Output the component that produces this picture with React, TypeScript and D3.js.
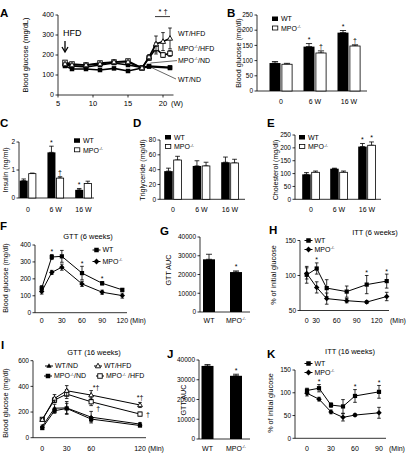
import React from "react";
import * as d3 from "d3";

const FONT = "'Liberation Sans', Arial, Helvetica, sans-serif";
const TICK_FS = 6.5;
const LAB_FS = 7.2;
const LEG_FS = 7;
const TITLE_FS = 7.5;

// ---------- Panel A ----------
const aWeeks = [6, 7, 9, 11, 13, 15, 17, 18, 19, 20, 21];
const aWtHfd = [155, 150, 150, 155, 165, 165, 135, 190, 255, 267, 283];
const aWtHfdErr = [6, 6, 6, 6, 6, 6, 6, 12, 40, 45, 52];
const aMpoHfd = [163, 155, 150, 160, 165, 170, 135, 185, 233, 200, 208];
const aMpoHfdErr = [6, 6, 6, 6, 6, 6, 6, 12, 28, 12, 15];
const aNdWeeks = [6, 7, 9, 11, 13, 15, 17, 18, 21];
const aWtNd = [145, 130, 130, 125, 133, 120, 135, 142, 135];
const aWtNdErr = [5, 5, 5, 5, 5, 5, 5, 5, 5];
const aMpoNd = [150, 145, 140, 150, 160, 150, 138, 145, 138];
const aMpoNdErr = [5, 5, 5, 5, 5, 5, 5, 5, 5];
const aXTicks = [5, 10, 15, 20];
const aYTicks = [0, 100, 200, 300, 400];

// ---------- Bar panels B-E ----------
const barGroups = ["0", "6 W", "16 W"];
const bWt = [92, 146, 192];
const bWtErr = [5, 10, 7];
const bMpo = [88, 125, 148];
const bMpoErr = [3, 7, 4];
const bStarsWt = ["", "*", "*"];
const bStarsMpo = ["", "†", "†"];
const bYTicks = [0, 50, 100, 150, 200, 250];

const cWt = [0.62, 1.63, 0.29];
const cWtErr = [0.06, 0.22, 0.05];
const cMpo = [0.87, 0.71, 0.52];
const cMpoErr = [0.02, 0.05, 0.08];
const cStarsWt = ["", "*", "*"];
const cStarsMpo = ["", "†", ""];
const cYTicks = [0, 1, 2];

const dWt = [38, 45, 50];
const dWtErr = [4, 7, 7];
const dMpo = [53, 45, 49];
const dMpoErr = [5, 5, 5];
const dYTicks = [0, 20, 40, 60, 80];

const eWt = [97, 119, 205];
const eWtErr = [7, 2, 12];
const eMpo = [105, 105, 210];
const eMpoErr = [5, 5, 13];
const eStarsWt = ["", "", "*"];
const eStarsMpo = ["", "", "*"];
const eYTicks = [0, 50, 100, 150, 200, 250];

// ---------- AUC panels G, J ----------
const aucGroups = ["WT", "MPO"];
const gAuc = [28100, 21300];
const gErr = [2700, 600];
const jAuc = [37000, 32000];
const jErr = [700, 800];
const aucStars = ["", "*"];
const aucYTicks = [0, 10000, 20000, 30000, 40000];

// ---------- F: GTT 6 weeks ----------
const fTime = [0, 15, 30, 60, 90, 120];
const fWt = [145, 329, 333, 234, 174, 135];
const fWtErr = [15, 15, 35, 40, 10, 8];
const fMpo = [125, 238, 269, 170, 121, 101];
const fMpoErr = [15, 12, 18, 15, 12, 15];
const fStarTimes = [15, 60, 90];
const fXTicks = [0, 30, 60, 90, 120];
const fYTicks = [0, 100, 200, 300, 400];

// ---------- H: ITT 6 weeks ----------
const hTime = [0, 15, 30, 60, 90, 120];
const hWt = [101, 110, 82, 77, 87, 92];
const hWtErr = [12, 8, 12, 8, 13, 10];
const hMpo = [103, 83, 67, 64, 62, 70];
const hMpoErr = [8, 8, 8, 3, 2, 6];
const hStarTimes = [15, 90, 120];
const hTickPos = [0, 14, 45, 75, 105];
const hTickLab = ["0", "30", "60", "90", "120"];
const hYTicks = [50, 100, 150];

// ---------- I: GTT 16 weeks ----------
const iTime = [0, 15, 30, 60, 120];
const iWtNd = [88, 230, 232, 160, 106];
const iWtNdErr = [10, 30, 50, 45, 12];
const iMpoNd = [75, 210, 228, 145, 95];
const iMpoNdErr = [10, 20, 40, 20, 10];
const iWtHfd = [140, 306, 366, 332, 255];
const iWtHfdErr = [10, 30, 40, 35, 20];
const iMpoHfd = [143, 293, 340, 280, 184];
const iMpoHfdErr = [10, 20, 35, 30, 15];
const iXTicks = [0, 30, 60, 120];
const iYTicks = [0, 200, 400, 600];

// ---------- K: ITT 16 weeks ----------
const kTime = [0, 15, 30, 45, 60, 90];
const kWt = [105, 110, 73, 70, 93, 102];
const kWtErr = [5, 8, 5, 15, 14, 14];
const kMpo = [99, 86, 58, 46, 51, 56];
const kMpoErr = [6, 4, 4, 8, 3, 12];
const kStarTimes = [15, 60, 90];
const kXTicks = [0, 30, 60, 90];
const kYTicks = [0, 50, 100, 150];

type MType = "sq" | "osq" | "dia" | "tri" | "otri";

function Marker({ type, cx, cy, s }: { type: MType; cx: number; cy: number; s: number }) {
  const h = s / 2;
  if (type === "sq") return <rect x={cx - h} y={cy - h} width={s} height={s} fill="#000" />;
  if (type === "osq")
    return <rect x={cx - h} y={cy - h} width={s} height={s} fill="#fff" stroke="#000" strokeWidth={0.9} />;
  if (type === "dia")
    return (
      <path
        d={`M${cx},${cy - h * 1.3}L${cx + h * 1.3},${cy}L${cx},${cy + h * 1.3}L${cx - h * 1.3},${cy}Z`}
        fill="#000"
      />
    );
  const d = `M${cx},${cy - h * 1.25}L${cx + h * 1.15},${cy + h * 0.8}L${cx - h * 1.15},${cy + h * 0.8}Z`;
  if (type === "tri") return <path d={d} fill="#000" />;
  return <path d={d} fill="#fff" stroke="#000" strokeWidth={0.9} />;
}

function ErrBar({ x, y1, y2, cap = 2 }: { x: number; y1: number; y2: number; cap?: number }) {
  return (
    <g stroke="#000" strokeWidth={0.8}>
      <line x1={x} x2={x} y1={y1} y2={y2} />
      <line x1={x - cap} x2={x + cap} y1={y1} y2={y1} />
      <line x1={x - cap} x2={x + cap} y1={y2} y2={y2} />
    </g>
  );
}

function YAxis({ y, x, ticks, fmt = (t: number) => String(t), fs = TICK_FS }: any) {
  const dom = y.domain();
  return (
    <g>
      <line x1={x} x2={x} y1={y(dom[0])} y2={y(dom[1])} stroke="#000" strokeWidth={0.8} />
      {ticks.map((t: number) => (
        <g key={t}>
          <line x1={x - 2.5} x2={x} y1={y(t)} y2={y(t)} stroke="#000" strokeWidth={0.8} />
          <text x={x - 4} y={y(t)} dy="0.35em" textAnchor="end" fontSize={fs}>
            {fmt(t)}
          </text>
        </g>
      ))}
    </g>
  );
}

function RotLabel({ cx, cy, text, fs = LAB_FS }: { cx: number; cy: number; text: string; fs?: number }) {
  return (
    <text transform={`translate(${cx + fs * 0.35},${cy}) rotate(-90)`} textAnchor="middle" fontSize={fs}>
      {text}
    </text>
  );
}

function Sup({ base, after, fs }: { base: string; after?: string; fs: number }) {
  return (
    <>
      {base}
      <tspan dy={-fs * 0.38} fontSize={fs * 0.62}>
        -/-
      </tspan>
      {after ? (
        <tspan dy={fs * 0.38} fontSize={fs}>
          {after}
        </tspan>
      ) : null}
    </>
  );
}

function PanelLetter({ x, y, t }: { x: number; y: number; t: string }) {
  return (
    <text x={x} y={y} fontSize={11.5} fontWeight="bold">
      {t}
    </text>
  );
}

type Ser = { t: number[]; v: number[]; e: number[]; m: MType };

function SeriesG({ s, x, y, ms, sw }: { s: Ser; x: any; y: any; ms: number; sw: number }) {
  const pts: [number, number][] = s.t.map((t, i) => [x(t), y(s.v[i])]);
  const line = d3.line()(pts) || "";
  return (
    <g>
      <path d={line} fill="none" stroke="#000" strokeWidth={sw} />
      {s.t.map((t, i) =>
        s.e[i] > 0 ? <ErrBar key={"e" + i} x={x(t)} y1={y(s.v[i] - s.e[i])} y2={y(s.v[i] + s.e[i])} cap={1.8} /> : null
      )}
      {pts.map((p, i) => (
        <Marker key={"m" + i} type={s.m} cx={p[0]} cy={p[1]} s={ms} />
      ))}
    </g>
  );
}

function LegendItem({ x, y, m, label, ms = 4.5 }: { x: number; y: number; m: MType; label: React.ReactNode; ms?: number }) {
  return (
    <g>
      <line x1={x - 4} x2={x + 4} y1={y} y2={y} stroke="#000" strokeWidth={1} />
      <Marker type={m} cx={x} cy={y} s={ms} />
      <text x={x + 6} y={y} dy="0.35em" fontSize={LEG_FS}>
        {label}
      </text>
    </g>
  );
}

function BarLegend({ x, y }: { x: number; y: number }) {
  return (
    <g>
      <rect x={x} y={y} width={6} height={4.5} fill="#000" />
      <text x={x + 9} y={y + 2.5} dy="0.35em" fontSize={LEG_FS}>
        WT
      </text>
      <rect x={x + 0.4} y={y + 9.5} width={5.4} height={4} fill="#fff" stroke="#000" strokeWidth={0.8} />
      <text x={x + 9} y={y + 11.8} dy="0.35em" fontSize={LEG_FS}>
        <Sup base="MPO" fs={LEG_FS} />
      </text>
    </g>
  );
}

function BarPanel({
  c0, c1, ax0, ax1, y, barW, gap = 0.8, wt, wtErr, mpo, mpoErr, starsWt, starsMpo, ticks, fmt, labelY,
}: any) {
  const xc = d3.scalePoint<string>().domain(barGroups).range([c0, c1]);
  const y0 = y(0);
  return (
    <g>
      <line x1={ax0} x2={ax1} y1={y0} y2={y0} stroke="#000" strokeWidth={0.8} />
      {barGroups.map((g, i) => {
        const c = xc(g) as number;
        const xw = c - gap / 2 - barW;
        const xm = c + gap / 2;
        return (
          <g key={g}>
            <ErrBar x={xw + barW / 2} y1={y(wt[i])} y2={y(wt[i] + wtErr[i])} cap={barW * 0.28} />
            <ErrBar x={xm + barW / 2} y1={y(mpo[i])} y2={y(mpo[i] + mpoErr[i])} cap={barW * 0.28} />
            <rect x={xw} y={y(wt[i])} width={barW} height={y0 - y(wt[i])} fill="#000" />
            <rect
              x={xm + 0.4}
              y={y(mpo[i])}
              width={barW - 0.8}
              height={y0 - y(mpo[i])}
              fill="#fff"
              stroke="#000"
              strokeWidth={0.8}
            />
            {starsWt && starsWt[i] ? (
              <text x={xw + barW / 2} y={y(wt[i] + wtErr[i]) - 1.5} textAnchor="middle" fontSize={7}>
                {starsWt[i]}
              </text>
            ) : null}
            {starsMpo && starsMpo[i] ? (
              <text x={xm + barW / 2} y={y(mpo[i] + mpoErr[i]) - 1.5} textAnchor="middle" fontSize={7}>
                {starsMpo[i]}
              </text>
            ) : null}
            <text x={c} y={labelY} textAnchor="middle" fontSize={TICK_FS + 0.5}>
              {g}
            </text>
          </g>
        );
      })}
      <YAxis y={y} x={ax0} ticks={ticks} fmt={fmt} />
    </g>
  );
}

function AucPanel({ c0, c1, ax0, ax1, y, barW, vals, errs, labelY }: any) {
  const xc = d3.scalePoint<string>().domain(aucGroups).range([c0, c1]);
  const y0 = y(0);
  return (
    <g>
      <line x1={ax0} x2={ax1} y1={y0} y2={y0} stroke="#000" strokeWidth={0.8} />
      {aucGroups.map((g, i) => {
        const c = xc(g) as number;
        return (
          <g key={g}>
            <ErrBar x={c} y1={y(vals[i])} y2={y(vals[i] + errs[i])} cap={barW * 0.25} />
            <rect x={c - barW / 2} y={y(vals[i])} width={barW} height={y0 - y(vals[i])} fill="#000" />
            {aucStars[i] ? (
              <text x={c} y={y(vals[i] + errs[i]) - 1.5} textAnchor="middle" fontSize={7}>
                {aucStars[i]}
              </text>
            ) : null}
            <text x={c} y={labelY} textAnchor="middle" fontSize={TICK_FS + 0.5}>
              {g === "MPO" ? <Sup base="MPO" fs={TICK_FS + 0.5} /> : g}
            </text>
          </g>
        );
      })}
      <YAxis y={y} x={ax0} ticks={aucYTicks} />
    </g>
  );
}

function PanelA() {
  const x = d3.scaleLinear().domain([5, 21.5]).range([58, 173.5]);
  const y = d3.scaleLinear().domain([0, 400]).range([95, 15]);
  const series: Ser[] = [
    { t: aNdWeeks, v: aWtNd, e: aWtNdErr, m: "sq" },
    { t: aNdWeeks, v: aMpoNd, e: aMpoNdErr, m: "sq" },
    { t: aWeeks, v: aMpoHfd, e: aMpoHfdErr, m: "osq" },
    { t: aWeeks, v: aWtHfd, e: aWtHfdErr, m: "otri" },
  ];
  const lx = x(21) + 8;
  return (
    <g>
      <PanelLetter x={0} y={16.5} t="A" />
      <RotLabel cx={25} cy={55} text="Blood glucose (mg/dL)" fs={7.5} />
      <line x1={x(5)} x2={x(21.5)} y1={y(0)} y2={y(0)} stroke="#000" strokeWidth={0.8} />
      {aXTicks.map((t) => (
        <g key={t}>
          <line x1={x(t)} x2={x(t)} y1={y(0)} y2={y(0) + 2.5} stroke="#000" strokeWidth={0.8} />
          <text x={x(t)} y={106} textAnchor="middle" fontSize={7.5}>
            {t}
          </text>
        </g>
      ))}
      <text x={x(20) + 8} y={106} fontSize={7.5}>
        (W)
      </text>
      <YAxis y={y} x={x(5)} ticks={aYTicks} fs={7} />
      {series.map((s, i) => (
        <SeriesG key={i} s={s} x={x} y={y} ms={4.5} sw={1.6} />
      ))}
      <text x={x(6) - 2} y={36} fontSize={9}>
        HFD
      </text>
      <line x1={x(6)} x2={x(6)} y1={41} y2={51} stroke="#000" strokeWidth={1.3} />
      <path d={`M${x(6) - 3},${47}L${x(6)},${52}L${x(6) + 3},${47}`} fill="none" stroke="#000" strokeWidth={1.3} />
      <text x={(x(19) + x(21)) / 2} y={y(405)} textAnchor="middle" fontSize={7.5}>
        {"*  †"}
      </text>
      <line x1={x(19) - 1} x2={x(21)} y1={y(392)} y2={y(392)} stroke="#000" strokeWidth={0.8} />
      <text x={lx} y={36} fontSize={7}>
        WT/HFD
      </text>
      <text x={lx} y={51} fontSize={7}>
        <Sup base="MPO" after="/HFD" fs={7} />
      </text>
      <text x={lx} y={63} fontSize={7}>
        <Sup base="MPO" after="/ND" fs={7} />
      </text>
      <text x={lx} y={82} fontSize={7}>
        WT/ND
      </text>
      <line x1={x(18.2)} x2={lx - 1} y1={y(160)} y2={y(172)} stroke="#000" strokeWidth={0.6} />
      <line x1={x(18.2)} x2={lx - 2} y1={y(140)} y2={y(80)} stroke="#000" strokeWidth={0.6} />
    </g>
  );
}

function LinePanel({ x, y, series, ax0, ax1, xTicks, xTickLabels, yTicks, labelY, minX, ms = 4.2 }: any) {
  const yb = y(y.domain()[0]);
  return (
    <g>
      <line x1={ax0} x2={ax1} y1={yb} y2={yb} stroke="#000" strokeWidth={0.8} />
      {xTicks.map((t: number, i: number) => (
        <text key={t} x={x(t)} y={labelY} textAnchor="middle" fontSize={TICK_FS + 0.5}>
          {xTickLabels ? xTickLabels[i] : t}
        </text>
      ))}
      <text x={minX} y={labelY} fontSize={TICK_FS + 0.5}>
        (Min)
      </text>
      <YAxis y={y} x={ax0} ticks={yTicks} />
      {series.map((s: Ser, i: number) => (
        <SeriesG key={i} s={s} x={x} y={y} ms={ms} sw={1} />
      ))}
    </g>
  );
}

function Stars({ times, tArr, vals, errs, x, y, sym = "*" }: any) {
  return (
    <g>
      {times.map((t: number) => {
        const i = tArr.indexOf(t);
        return (
          <text key={t} x={x(t)} y={y(vals[i] + errs[i]) - 0.5} textAnchor="middle" fontSize={7}>
            {sym}
          </text>
        );
      })}
    </g>
  );
}

function PanelF() {
  const x = d3.scaleLinear().domain([0, 120]).range([41.7, 122.3]);
  const y = d3.scaleLinear().domain([0, 400]).range([312.7, 245]);
  const series: Ser[] = [
    { t: fTime, v: fMpo, e: fMpoErr, m: "dia" },
    { t: fTime, v: fWt, e: fWtErr, m: "sq" },
  ];
  return (
    <g>
      <PanelLetter x={0} y={230} t="F" />
      <text x={88} y={239} textAnchor="middle" fontSize={TITLE_FS}>
        GTT (6 weeks)
      </text>
      <RotLabel cx={5} cy={278} text="Blood glucose (mg/dl)" />
      <LinePanel x={x} y={y} series={series} ax0={35} ax1={127} xTicks={fXTicks} yTicks={fYTicks} labelY={323} minX={130} />
      <Stars times={fStarTimes} tArr={fTime} vals={fWt} errs={fWtErr} x={x} y={y} />
      <LegendItem x={96.5} y={250} m="sq" label="WT" />
      <LegendItem x={96.5} y={261.5} m="dia" label={<Sup base="MPO" fs={LEG_FS} />} />
    </g>
  );
}

function PanelH() {
  const x = d3.scaleLinear().domain([0, 120]).range([306.7, 386.7]);
  const y = d3.scaleLinear().domain([50, 150]).range([310.5, 240.5]);
  const series: Ser[] = [
    { t: hTime, v: hMpo, e: hMpoErr, m: "dia" },
    { t: hTime, v: hWt, e: hWtErr, m: "sq" },
  ];
  return (
    <g>
      <PanelLetter x={269} y={234} t="H" />
      <text x={375} y={235} textAnchor="middle" fontSize={TITLE_FS}>
        ITT (6 weeks)
      </text>
      <RotLabel cx={273} cy={275} text="% of initial glucose" />
      <LinePanel
        x={x} y={y} series={series} ax0={300} ax1={389} xTicks={hTickPos} xTickLabels={hTickLab}
        yTicks={hYTicks} labelY={323} minX={390}
      />
      <Stars times={hStarTimes} tArr={hTime} vals={hWt} errs={hWtErr} x={x} y={y} />
      <LegendItem x={308.5} y={240.5} m="sq" label="WT" />
      <LegendItem x={308.5} y={249.5} m="dia" label={<Sup base="MPO" fs={LEG_FS} />} />
    </g>
  );
}

function PanelI() {
  const x = d3.scaleLinear().domain([0, 120]).range([42.3, 140]);
  const y = d3.scaleLinear().domain([0, 600]).range([437.7, 360.7]);
  const series: Ser[] = [
    { t: iTime, v: iMpoNd, e: iMpoNdErr, m: "sq" },
    { t: iTime, v: iWtNd, e: iWtNdErr, m: "tri" },
    { t: iTime, v: iMpoHfd, e: iMpoHfdErr, m: "osq" },
    { t: iTime, v: iWtHfd, e: iWtHfdErr, m: "otri" },
  ];
  const i60 = iTime.indexOf(60);
  const i120 = iTime.indexOf(120);
  return (
    <g>
      <PanelLetter x={1} y={349} t="I" />
      <text x={94} y={355} textAnchor="middle" fontSize={TITLE_FS}>
        GTT (16 weeks)
      </text>
      <RotLabel cx={5} cy={403} text="Blood glucose (mg/dl)" />
      <LinePanel x={x} y={y} series={series} ax0={33} ax1={146} xTicks={iXTicks} yTicks={iYTicks} labelY={451} minX={148} />
      <text x={x(60) + 5} y={y(iWtHfd[i60] + iWtHfdErr[i60]) - 0.5} textAnchor="middle" fontSize={7}>
        *†
      </text>
      <text x={x(120)} y={y(iWtHfd[i120] + iWtHfdErr[i120]) - 2} textAnchor="middle" fontSize={7}>
        *†
      </text>
      <text x={x(60) + 7} y={y(iMpoNd[i60] + 60)} textAnchor="middle" fontSize={7}>
        †
      </text>
      <text x={x(120) + 8} y={y(iMpoHfd[i120]) + 3} textAnchor="middle" fontSize={7}>
        †
      </text>
      <LegendItem x={49} y={366} m="tri" label="WT/ND" />
      <LegendItem x={98} y={366} m="otri" label="WT/HFD" />
      <LegendItem x={48} y={376} m="sq" label={<Sup base="MPO" after="/ND" fs={LEG_FS} />} />
      <LegendItem x={100} y={376} m="osq" label={<Sup base="MPO" after=" /HFD" fs={LEG_FS} />} />
    </g>
  );
}

function PanelK() {
  const x = d3.scaleLinear().domain([0, 90]).range([307, 379]);
  const y = d3.scaleLinear().domain([0, 150]).range([438.3, 370]);
  const series: Ser[] = [
    { t: kTime, v: kMpo, e: kMpoErr, m: "dia" },
    { t: kTime, v: kWt, e: kWtErr, m: "sq" },
  ];
  return (
    <g>
      <PanelLetter x={267} y={358} t="K" />
      <text x={350} y={354} textAnchor="middle" fontSize={TITLE_FS}>
        ITT (16 weeks)
      </text>
      <RotLabel cx={270} cy={403} text="% of initial glucose" />
      <LinePanel x={x} y={y} series={series} ax0={295} ax1={386} xTicks={kXTicks} yTicks={kYTicks} labelY={451} minX={389} />
      <Stars times={kStarTimes} tArr={kTime} vals={kWt} errs={kWtErr} x={x} y={y} />
      <LegendItem x={308.5} y={363.5} m="sq" label="WT" />
      <LegendItem x={308.5} y={372.5} m="dia" label={<Sup base="MPO" fs={LEG_FS} />} />
    </g>
  );
}

export default function App() {
  const yB = d3.scaleLinear().domain([0, 250]).range([91, 15]);
  const yC = d3.scaleLinear().domain([0, 2]).range([198, 142]);
  const yD = d3.scaleLinear().domain([0, 80]).range([199.3, 140]);
  const yE = d3.scaleLinear().domain([0, 250]).range([199.3, 135]);
  const yG = d3.scaleLinear().domain([0, 40000]).range([312, 237]);
  const yJ = d3.scaleLinear().domain([0, 40000]).range([439, 360]);
  return (
    <svg
      width={407}
      height={453}
      style={{ position: "absolute", left: 0, top: 0, background: "#fff" }}
      fontFamily={FONT}
    >
      <rect width={407} height={453} fill="#fff" />
      <PanelA />

      <PanelLetter x={227} y={16.5} t="B" />
      <RotLabel cx={238} cy={53} text="Blood glucose (mg/dl)" />
      <BarPanel
        c0={281} c1={349} ax0={257} ax1={367} y={yB} barW={11} gap={1}
        wt={bWt} wtErr={bWtErr} mpo={bMpo} mpoErr={bMpoErr} starsWt={bStarsWt} starsMpo={bStarsMpo}
        ticks={bYTicks} labelY={104}
      />
      <BarLegend x={272} y={16.5} />

      <PanelLetter x={0} y={127} t="C" />
      <RotLabel cx={5} cy={170} text="Insulin (ng/ml)" />
      <BarPanel
        c0={28} c1={83.5} ax0={19} ax1={94} y={yC} barW={8} gap={0.6}
        wt={cWt} wtErr={cWtErr} mpo={cMpo} mpoErr={cMpoErr} starsWt={cStarsWt} starsMpo={cStarsMpo}
        ticks={cYTicks} labelY={212}
      />
      <BarLegend x={74} y={138.3} />

      <PanelLetter x={133} y={127} t="D" />
      <RotLabel cx={142} cy={170} text="Triglyceride (mg/dl)" />
      <BarPanel
        c0={173} c1={230} ax0={160} ax1={245} y={yD} barW={8.5} gap={0.6}
        wt={dWt} wtErr={dWtErr} mpo={dMpo} mpoErr={dMpoErr}
        ticks={dYTicks} labelY={212}
      />
      <BarLegend x={165} y={135} />

      <PanelLetter x={267} y={127} t="E" />
      <RotLabel cx={275} cy={170} text="Cholesterol (mg/dl)" />
      <BarPanel
        c0={311} c1={367} ax0={295} ax1={381} y={yE} barW={8.5} gap={0.6}
        wt={eWt} wtErr={eWtErr} mpo={eMpo} mpoErr={eMpoErr} starsWt={eStarsWt} starsMpo={eStarsMpo}
        ticks={eYTicks} labelY={212}
      />
      <BarLegend x={299} y={135} />

      <PanelF />

      <PanelLetter x={160} y={235} t="G" />
      <RotLabel cx={168} cy={270} text="GTT AUC" />
      <AucPanel c0={209} c1={236} ax0={200} ax1={250} y={yG} barW={12} vals={gAuc} errs={gErr} labelY={323} />

      <PanelH />
      <PanelI />

      <PanelLetter x={167} y={358} t="J" />
      <RotLabel cx={183} cy={400} text="GTT AUC" />
      <AucPanel c0={207.5} c1={236} ax0={199} ax1={250} y={yJ} barW={12} vals={jAuc} errs={jErr} labelY={451} />

      <PanelK />
    </svg>
  );
}
